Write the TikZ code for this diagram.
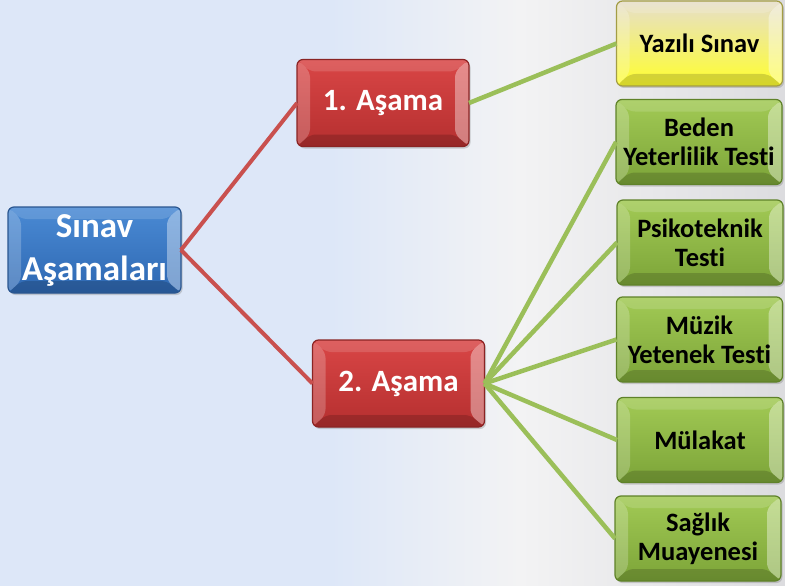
\documentclass[tikz,border=0pt]{standalone}
\usepackage{fontspec}
\setmainfont{Carlito}[Ligatures=NoCommon]
\usetikzlibrary{shadows,calc}
\definecolor{bgblue}{HTML}{DDE7F8}
\definecolor{bgwhite}{HTML}{F3F3F4}
\definecolor{bggrey}{HTML}{DCDCDF}
\definecolor{bluetop}{HTML}{4A8AD4}
\definecolor{bluebot}{HTML}{2E68B2}
\definecolor{blueedge}{HTML}{2A5690}
\definecolor{redtop}{HTML}{D94646}
\definecolor{redbot}{HTML}{B52F2F}
\definecolor{rededge}{HTML}{8A2424}
\definecolor{greentop}{HTML}{A2CA55}
\definecolor{greenbot}{HTML}{7CA438}
\definecolor{greenedge}{HTML}{5F8229}
\definecolor{yeltop}{HTML}{E6DECB}
\definecolor{yelbot}{HTML}{FFFF2E}
\definecolor{yeledge}{HTML}{A39D45}
\definecolor{redline}{HTML}{C9504E}
\definecolor{greenline}{HTML}{9BBF59}
\tikzset{
  bevel/.style={path picture={
    \fill[white,opacity=.14] let \p1=(path picture bounding box.south west), \p2=(path picture bounding box.north east) in
      (\x1,\y2) -- (\x1+13pt,\y2-12pt) -- (\x2-14pt,\y2-12pt) -- (\x2,\y2) -- cycle;
    \fill[white,opacity=.22] let \p1=(path picture bounding box.south west), \p2=(path picture bounding box.north east) in
      (\x1,\y1) -- (\x1+13pt,\y1+12pt) -- (\x1+13pt,\y2-12pt) -- (\x1,\y2) -- cycle;
    \fill[white,opacity=.38] let \p1=(path picture bounding box.south west), \p2=(path picture bounding box.north east) in
      (\x2,\y1) -- (\x2-14pt,\y1+12pt) -- (\x2-14pt,\y2-12pt) -- (\x2,\y2) -- cycle;
    \fill[black,opacity=.16] let \p1=(path picture bounding box.south west), \p2=(path picture bounding box.north east) in
      (\x1,\y1) -- (\x1+13pt,\y1+12pt) -- (\x2-14pt,\y1+12pt) -- (\x2,\y1) -- cycle;
  }},
  box/.style={rounded corners=6pt, draw, line width=1.2pt, inner sep=0pt, outer sep=0pt,
    align=center, font=\bfseries, bevel,
    drop shadow={opacity=.35, shadow xshift=1.5pt, shadow yshift=-2pt}},
  bluebox/.style={box, draw=blueedge, top color=bluetop, bottom color=bluebot, text=white,
    minimum width=173pt, minimum height=86pt, font=\bfseries\fontsize{35}{43}\selectfont},
  redbox/.style={box, draw=rededge, top color=redtop, bottom color=redbot, text=white,
    minimum width=172pt, minimum height=87pt, font=\bfseries\fontsize{31}{36}\selectfont},
  greenbox/.style={box, draw=greenedge, top color=greentop, bottom color=greenbot, text=black,
    minimum width=166pt, minimum height=85pt, font=\bfseries\fontsize{26.5}{29}\selectfont},
  yelbox/.style={box, draw=yeledge, top color=yeltop, bottom color=yelbot, text=black,
    minimum width=166pt, minimum height=85pt, font=\bfseries\fontsize{26.5}{29}\selectfont},
  redlink/.style={draw=redline, line width=4pt},
  greenlink/.style={draw=greenline, line width=4.5pt}
}
\begin{document}
\begin{tikzpicture}[x=1pt,y=-1pt]
  % background
  \fill[bgblue] (0,0) rectangle (785,586);
  \shade[left color=bgblue, right color=bgwhite] (330,0) rectangle (520,586);
  \shade[left color=bgwhite, right color=bggrey] (520,0) rectangle (785,586);
  \useasboundingbox (0,0) rectangle (785,586);

  % nodes
  \node[bluebox] (root) at (94.5,250) {Sınav\\Aşamaları};
  \node[redbox] (s1) at (383,103) {1. Aşama};
  \node[redbox] (s2) at (398.5,383.5) {2. Aşama};
  \node[yelbox] (yaz) at (699.5,43.5) {Yazılı Sınav};
  \node[greenbox] (bed) at (699,142) {Beden\\Yeterlilik Testi};
  \node[greenbox] (psi) at (700,242.5) {Psikoteknik\\Testi};
  \node[greenbox] (muz) at (699.5,339.5) {Müzik\\Yetenek Testi};
  \node[greenbox] (mul) at (700,440) {Mülakat};
  \node[greenbox] (sag) at (698,538.5) {Sağlık\\Muayenesi};

  % connectors
  \draw[redlink] (root.east) -- (s1.west);
  \draw[redlink] (root.east) -- (s2.west);
  \draw[greenlink] (s1.east) -- (yaz.west);
  \foreach \t in {bed,psi,muz,mul,sag}
    \draw[greenlink] (s2.east) -- (\t.west);
\end{tikzpicture}
\end{document}
